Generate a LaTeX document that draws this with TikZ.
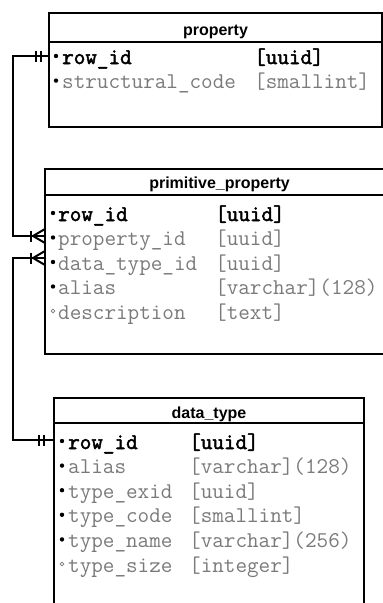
\documentclass[tikz,border=0pt]{standalone}
\usepackage{fontspec}
\setmainfont{Liberation Sans}
\newfontfamily\keyfont{Latin Modern Mono}[FakeBold=2.2]
\definecolor{fieldgray}{HTML}{7A7A7A}
\begin{document}
\begin{tikzpicture}[x=1pt,y=-1pt,
  frame/.style={draw=black, line width=2.4pt, fill=white},
  rule/.style={draw=black, line width=2.4pt},
  link/.style={draw=black, line width=2.4pt},
  tick/.style={draw=black, line width=2pt},
  title/.style={font=\bfseries\fontsize{16}{16}\selectfont, anchor=base, inner sep=0pt},
  fname/.style={font=\ttfamily\fontsize{22.5}{24}\selectfont, anchor=base west, inner sep=0pt, text=fieldgray},
  fkey/.style={font=\keyfont\fontsize{22.5}{24}\selectfont, anchor=base west, inner sep=0pt, text=black},
  reqdot/.style={fill=black},
  optdot/.style={draw=fieldgray, line width=0.6pt, fill=white}
]
\useasboundingbox (0,0) rectangle (383,603);
\fill[white] (0,0) rectangle (383,603);
\clip (0,0) rectangle (383,603);

% ---- table: property ----
\draw[frame] (49,13) rectangle (382,127);
\draw[rule] (49,42) -- (382,42);
\node[title] (propTitle) at (215.5,35) {property};
\fill[reqdot] (56,56) circle (2.2);
\node[fkey] (propRowId) at (62,64) {row\_id};
\node[fkey] (propRowIdT) at (254,64) {[uuid]};
\fill[reqdot] (56,80.6) circle (2.2);
\node[fname] (propCode) at (62,88.6) {structural\_code};
\node[fname] (propCodeT) at (254,88.6) {[smallint]};

% ---- table: primitive_property ----
\draw[frame] (45,169) rectangle (396,354);
\draw[rule] (45,195) -- (396,195);
\node[title] (primTitle) at (219.5,188) {primitive\_property};
\fill[reqdot] (53,213) circle (2.2);
\node[fkey] (primRowId) at (58,221) {row\_id};
\node[fkey] (primRowIdT) at (215,221) {[uuid]};
\fill[reqdot] (53,237.5) circle (2.2);
\node[fname] (primProp) at (58,245.5) {property\_id};
\node[fname] (primPropT) at (215,245.5) {[uuid]};
\fill[reqdot] (53,262) circle (2.2);
\node[fname] (primType) at (58,270) {data\_type\_id};
\node[fname] (primTypeT) at (215,270) {[uuid]};
\fill[reqdot] (53,286.5) circle (2.2);
\node[fname] (primAlias) at (58,294.5) {alias};
\node[fname] (primAliasT) at (215,294.5) {[varchar](128)};
\draw[optdot] (53,311) circle (1.9);
\node[fname] (primDesc) at (58,319) {description};
\node[fname] (primDescT) at (215,319) {[text]};

% ---- table: data_type ----
\draw[frame] (54,398) rectangle (364,630);
\draw[rule] (54,423) -- (364,423);
\node[title] (dtTitle) at (209,418) {data\_type};
\fill[reqdot] (62,441) circle (2.2);
\node[fkey] (dtRowId) at (68,449) {row\_id};
\node[fkey] (dtRowIdT) at (189,449) {[uuid]};
\fill[reqdot] (62,465.6) circle (2.2);
\node[fname] (dtAlias) at (68,473.6) {alias};
\node[fname] (dtAliasT) at (189,473.6) {[varchar](128)};
\fill[reqdot] (62,490.2) circle (2.2);
\node[fname] (dtExid) at (68,498.2) {type\_exid};
\node[fname] (dtExidT) at (189,498.2) {[uuid]};
\fill[reqdot] (62,514.8) circle (2.2);
\node[fname] (dtCode) at (68,522.8) {type\_code};
\node[fname] (dtCodeT) at (189,522.8) {[smallint]};
\fill[reqdot] (62,539.4) circle (2.2);
\node[fname] (dtName) at (68,547.4) {type\_name};
\node[fname] (dtNameT) at (189,547.4) {[varchar](256)};
\draw[optdot] (62,564) circle (1.9);
\node[fname] (dtSize) at (68,572) {type\_size};
\node[fname] (dtSizeT) at (189,572) {[integer]};

% ---- relation: property 1 -- N primitive_property ----
\coordinate (r1a) at (49,56);
\coordinate (r1b) at (13,56);
\coordinate (r1c) at (13,236);
\coordinate (r1d) at (45,236);
\draw[link] (r1a) -- (r1b) -- (r1c) -- (r1d);
\draw[tick] ([xshift=-13pt]r1a) ++(0,-5.5) -- ++(0,11);
\draw[tick] ([xshift=-8pt]r1a) ++(0,-5.5) -- ++(0,11);
\draw[tick] ([xshift=-14pt]r1d) ++(0,-5.5) -- ++(0,11);
\draw[tick] ([xshift=-12pt]r1d) -- ([yshift=7pt]r1d);
\draw[tick] ([xshift=-12pt]r1d) -- ([yshift=-7pt]r1d);

% ---- relation: data_type 1 -- N primitive_property ----
\coordinate (r2a) at (45,258);
\coordinate (r2b) at (13,258);
\coordinate (r2c) at (13,440);
\coordinate (r2d) at (54,440);
\draw[link] (r2a) -- (r2b) -- (r2c) -- (r2d);
\draw[tick] ([xshift=-14pt]r2a) ++(0,-5.5) -- ++(0,11);
\draw[tick] ([xshift=-12pt]r2a) -- ([yshift=7pt]r2a);
\draw[tick] ([xshift=-12pt]r2a) -- ([yshift=-7pt]r2a);
\draw[tick] ([xshift=-15pt]r2d) ++(0,-5.5) -- ++(0,11);
\draw[tick] ([xshift=-10pt]r2d) ++(0,-5.5) -- ++(0,11);
\end{tikzpicture}
\end{document}
